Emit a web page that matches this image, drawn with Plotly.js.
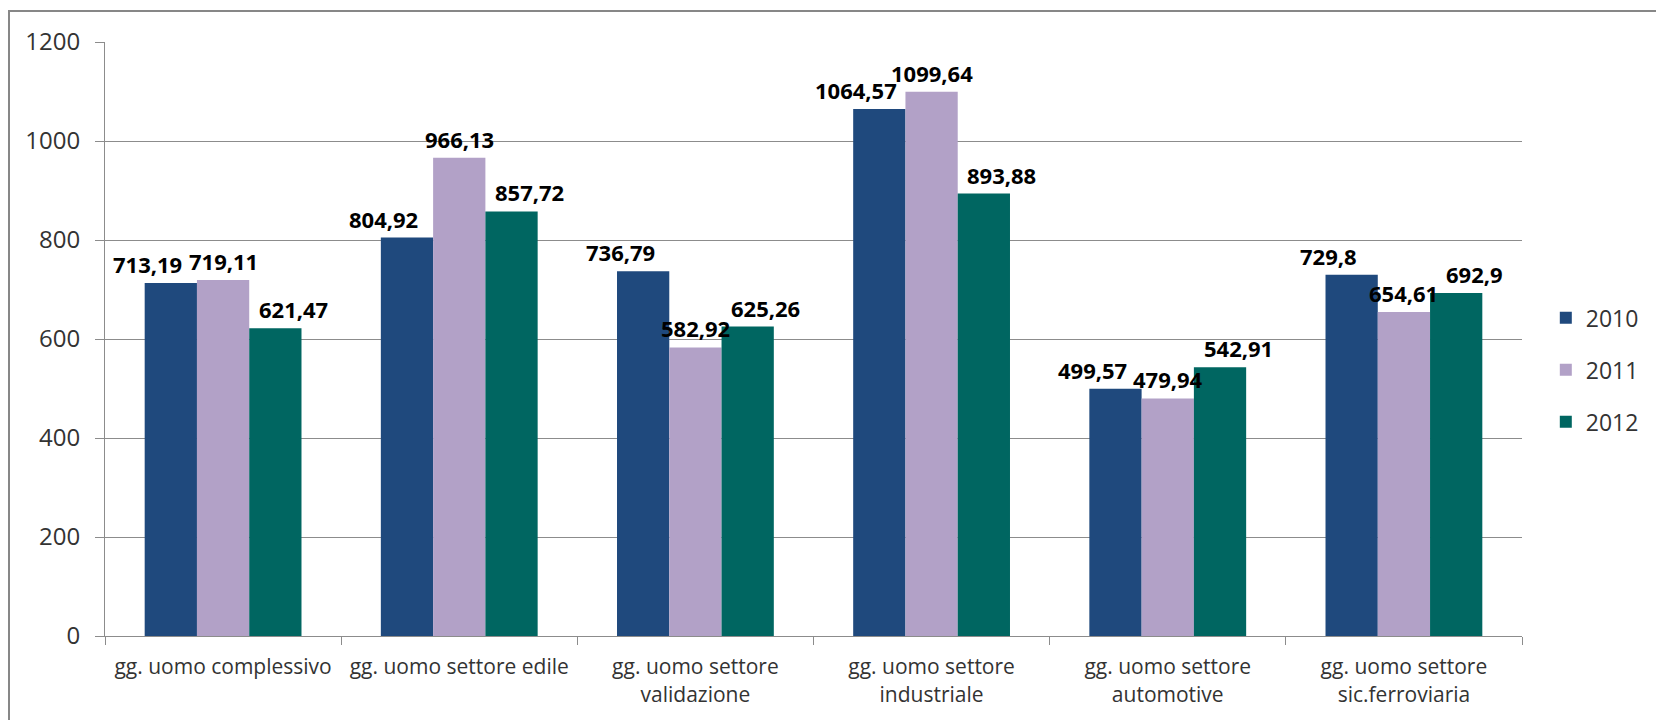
<!DOCTYPE html>
<html>
<head>
<meta charset="utf-8">
<script src="https://cdn.plot.ly/plotly-3.0.1.min.js"></script>
<style>
  html, body { margin: 0; padding: 0; background: #ffffff; overflow: hidden; width: 1656px; height: 720px; }
  #frame { position: absolute; left: 8px; top: 10px; width: 1648px; height: 710px;
           border-left: 2px solid #878787; border-top: 2px solid #878787; box-sizing: border-box; }
  #chart { position: absolute; left: 0; top: 0; width: 1656px; height: 720px; }
</style>
</head>
<body>
<div id="frame"></div>
<div id="chart"></div>
<script>
const categories = [
  "gg. uomo complessivo",
  "gg. uomo settore edile",
  "gg. uomo settore<br>validazione",
  "gg. uomo settore<br>industriale",
  "gg. uomo settore<br>automotive",
  "gg. uomo settore<br>sic.ferroviaria"
];
const seriesNames = ["2010", "2011", "2012"];
const values2010 = [713.19, 804.92, 736.79, 1064.57, 499.57, 729.8];
const values2011 = [719.11, 966.13, 582.92, 1099.64, 479.94, 654.61];
const values2012 = [621.47, 857.72, 625.26, 893.88, 542.91, 692.9];
const labels2010 = ["713,19", "804,92", "736,79", "1064,57", "499,57", "729,8"];
const labels2011 = ["719,11", "966,13", "582,92", "1099,64", "479,94", "654,61"];
const labels2012 = ["621,47", "857,72", "625,26", "893,88", "542,91", "692,9"];
const yTickVals = [0, 200, 400, 600, 800, 1000, 1200];

const colors = ["#1F497D", "#B2A1C7", "#006661"];
const labelNudge = [-23, 0, 18];
const bargap = 0.336;

const allValues = [values2010, values2011, values2012];
const allLabels = [labels2010, labels2011, labels2012];

const traces = allValues.map((vals, si) => ({
  type: "bar",
  name: seriesNames[si],
  legendgroup: seriesNames[si],
  x: categories,
  y: vals,
  marker: { color: colors[si], line: { width: 0 } },
  hoverinfo: "none"
}));

const annotations = [];
allValues.forEach((vals, si) => {
  vals.forEach((v, ci) => {
    annotations.push({
      xref: "x", yref: "y",
      x: ci + (si - 1) * (1 - bargap) / 3,
      y: v,
      text: allLabels[si][ci],
      showarrow: false,
      xanchor: "center", yanchor: "bottom",
      xshift: labelNudge[si], yshift: 3,
      borderpad: 0,
      font: { family: "Open Sans", size: 22, color: "#000000", weight: 700 }
    });
  });
});

const layout = {
  width: 1656, height: 720,
  margin: { l: 105, r: 123, t: 42, b: 84, pad: 0 },
  paper_bgcolor: "rgba(0,0,0,0)",
  plot_bgcolor: "rgba(0,0,0,0)",
  barmode: "group",
  bargap: bargap,
  bargroupgap: 0,
  showlegend: true,
  legend: {
    x: 1.0168, xanchor: "left", y: 0.448, yanchor: "middle",
    font: { family: "Open Sans", size: 23, color: "#333333" },
    traceorder: "grouped", tracegroupgap: 19,
    bgcolor: "rgba(0,0,0,0)"
  },
  xaxis: {
    type: "category",
    showline: true, linecolor: "#8c8c8c", linewidth: 1,
    ticks: "outside", tickson: "boundaries", ticklen: 8, tickcolor: "#8c8c8c",
    showgrid: false, zeroline: false,
    tickfont: { family: "Open Sans", size: 21, color: "#333333" },
    tickangle: 0,
    ticklabelstandoff: 12
  },
  yaxis: {
    range: [0, 1200],
    tickvals: yTickVals,
    ticktext: yTickVals.map(String),
    showline: true, linecolor: "#8c8c8c", linewidth: 1,
    ticks: "outside", ticklen: 9, tickcolor: "#8c8c8c",
    showgrid: true, gridcolor: "#8c8c8c", gridwidth: 1,
    zeroline: false,
    tickfont: { family: "Open Sans", size: 24, color: "#333333" },
    ticklabelstandoff: 10
  },
  annotations: annotations
};

Plotly.newPlot("chart", traces, layout, { displayModeBar: false, staticPlot: true });
</script>
</body>
</html>
